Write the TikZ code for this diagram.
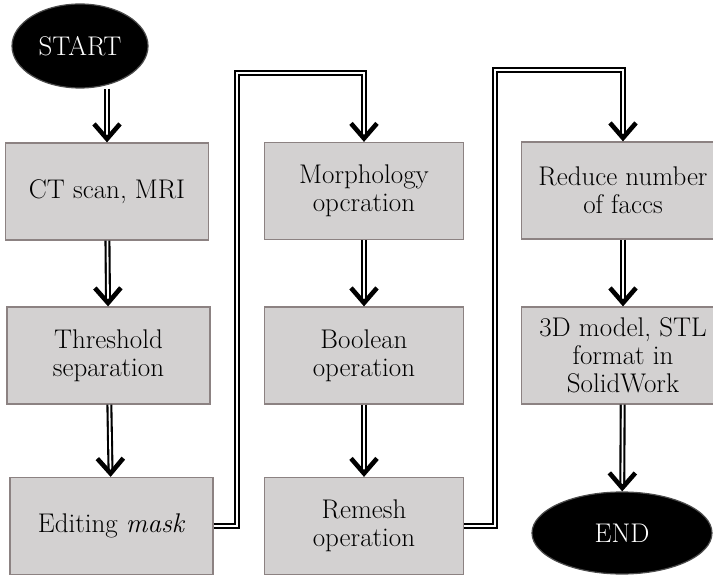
\documentclass[tikz,border=0pt]{standalone}
\usepackage{tikz}
\usetikzlibrary{arrows.meta}
\usetikzlibrary{shapes.geometric}
\usetikzlibrary{calc,positioning}

\definecolor{boxfill}{RGB}{211,209,209}
\definecolor{boxedge}{RGB}{140,130,130}

\tikzset{
    stepbox/.style={draw=boxedge, line width=1.2pt, fill=boxfill, rectangle,
        minimum width=203pt, minimum height=97pt, inner sep=0pt,
        align=center, font=\fontsize{27}{28}\selectfont},
    terminal/.style={draw=black!70, line width=1.2pt, fill=black, ellipse,
        inner sep=0pt, text=white, font=\fontsize{27}{28}\selectfont},
    dbl/.style={draw=black, line width=2.1pt, double=white, double distance=1.8pt,
        -{Straight Barb[length=15pt, width=26pt, line width=4.6pt]}},
}

\begin{document}
\begin{tikzpicture}[x=1pt, y=-1pt]

    \clip (0,0) rectangle (713,580);

    \node[terminal, minimum width=136pt, minimum height=84pt] (start) at (80,46) {START};

    \node[stepbox] (ctscan) at (107,191.5) {CT scan, MRI};
    \node[stepbox] (thresh) at (108.5,355.5) {Threshold\\separation};
    \node[stepbox] (mask) at (111.5,526) {Editing \textit{mask}};

    \node[stepbox, minimum width=199pt] (morph) at (364,191) {Morphology\\opcration};
    \node[stepbox, minimum width=199pt] (bool) at (364,355.5) {Boolean\\operation};
    \node[stepbox, minimum width=199pt] (remesh) at (364,526) {Remesh\\operation};

    \node[stepbox] (reduce) at (623,190.5) {Reduce number\\of faccs};
    \node[stepbox] (model) at (623,355.5) {3D model, STL\\format in\\SolidWork};
    \node[terminal, minimum width=180pt, minimum height=82pt] (end) at (622,533) {END};

    % first column
    \draw[dbl] (start.south -| ctscan.north) -- (ctscan.north);
    \draw[dbl] (ctscan) -- (thresh);
    \draw[dbl] (thresh) -- (mask);

    % over to the second column
    \draw[dbl] (mask.east) -| (237,73) -| (morph.north);
    \draw[dbl] (morph) -- (bool);
    \draw[dbl] (bool) -- (remesh);

    % over to the third column
    \draw[dbl] (remesh.east) -| (495,70) -| (reduce.north);
    \draw[dbl] (reduce) -- (model);
    \draw[dbl] (model) -- (end);

\end{tikzpicture}
\end{document}
